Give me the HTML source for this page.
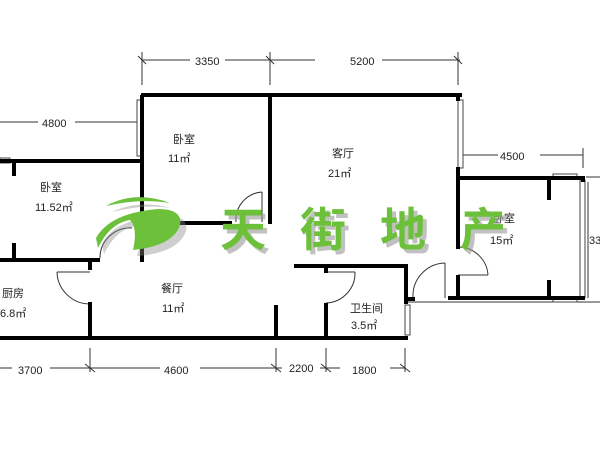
<!DOCTYPE html>
<html><head><meta charset="utf-8"><style>
body{margin:0;background:#fff;}
svg{display:block;}
text{font-family:"Liberation Sans","Noto Sans CJK SC",sans-serif;fill:#222;}
.d{font-size:11px;fill:#333;}
.l{font-size:11px;}
.g{font-family:"Noto Sans CJK SC","WenQuanYi Zen Hei",sans-serif;font-size:46px;font-weight:bold;fill:#6cc03a;}
.gs{font-family:"Noto Sans CJK SC","WenQuanYi Zen Hei",sans-serif;font-size:46px;font-weight:bold;fill:#999;opacity:.6;}
</style></head><body>
<svg width="600" height="450" viewBox="0 0 600 450">
<g stroke="#333" stroke-width="1" fill="none">
<!-- top dims -->
<line x1="142" y1="60" x2="190" y2="60"/><line x1="225" y1="60" x2="315" y2="60"/><line x1="382" y1="60" x2="460" y2="60"/>
<line x1="142" y1="52" x2="142" y2="85"/><line x1="270" y1="52" x2="270" y2="85"/><line x1="458" y1="52" x2="458" y2="85"/>
<line x1="138" y1="56" x2="146" y2="64"/><line x1="266" y1="56" x2="274" y2="64"/><line x1="454" y1="56" x2="462" y2="64"/>
<line x1="0" y1="122" x2="38" y2="122"/><line x1="75" y1="122" x2="140" y2="122"/>
<line x1="462" y1="155" x2="498" y2="155"/><line x1="540" y1="155" x2="583" y2="155"/>
<line x1="583" y1="148" x2="583" y2="168"/><line x1="586" y1="177" x2="600" y2="177"/><line x1="586" y1="302" x2="600" y2="302"/>
<line x1="588" y1="182" x2="588" y2="298"/>
<!-- bottom dims -->
<line x1="0" y1="368" x2="12" y2="368"/><line x1="50" y1="368" x2="160" y2="368"/><line x1="200" y1="368" x2="282" y2="368"/>
<line x1="320" y1="368" x2="340" y2="368"/><line x1="390" y1="368" x2="405" y2="368"/>
<line x1="90" y1="348" x2="90" y2="372"/><line x1="276" y1="348" x2="276" y2="372"/><line x1="326" y1="348" x2="326" y2="372"/><line x1="405" y1="348" x2="405" y2="372"/>
<line x1="85" y1="364" x2="95" y2="372"/><line x1="271" y1="364" x2="281" y2="372"/><line x1="321" y1="364" x2="331" y2="372"/><line x1="400" y1="364" x2="410" y2="372"/>
<!-- door arcs -->
<path d="M57 272 A33 33 0 0 0 90 304"/><line x1="57" y1="272" x2="90" y2="272"/>
<path d="M355 272 A30 30 0 0 1 326 303"/><line x1="326" y1="272" x2="355" y2="272"/>
<path d="M236 222 A28 28 0 0 1 262 192"/><line x1="262" y1="192" x2="262" y2="222"/>
<path d="M458 247 A30 30 0 0 1 488 275"/><line x1="458" y1="275" x2="488" y2="275"/>
<path d="M413 298 A33 33 0 0 1 445 263"/><line x1="445" y1="263" x2="445" y2="298"/>
<path d="M100 258 A30 30 0 0 1 132 228"/>
<line x1="405" y1="302" x2="600" y2="302"/>
</g>
<!-- windows -->
<g fill="#fff" stroke="#444" stroke-width="1">
<rect x="137" y="100" width="5" height="56"/><rect x="458" y="100" width="5" height="68"/>
<rect x="580" y="180" width="5" height="118"/><rect x="405" y="305" width="5" height="30"/>
<rect x="0" y="158" width="10" height="5"/><rect x="553" y="174" width="24" height="5"/><rect x="553" y="297" width="24" height="5"/>
</g>
<g fill="#000">
<rect x="141" y="93" width="321" height="4"/>
<rect x="140" y="95" width="4" height="167"/>
<rect x="268" y="95" width="4" height="129"/>
<rect x="180" y="221" width="52" height="4"/>
<rect x="0" y="159" width="142" height="4"/>
<rect x="12" y="159" width="4" height="17"/><rect x="12" y="243" width="4" height="18"/>
<rect x="0" y="258" width="100" height="4"/>
<rect x="88" y="258" width="4" height="12"/>
<rect x="88" y="302" width="4" height="38"/>
<rect x="0" y="336" width="408" height="4"/>
<rect x="274" y="305" width="4" height="33"/>
<rect x="324" y="303" width="4" height="35"/><rect x="324" y="265" width="4" height="8"/>
<rect x="294" y="264" width="114" height="4"/>
<rect x="404" y="264" width="4" height="40"/>
<rect x="456" y="95" width="4" height="6"/><rect x="456" y="167" width="4" height="82"/>
<rect x="458" y="176" width="127" height="4"/>
<rect x="456" y="275" width="4" height="25"/>
<rect x="448" y="296" width="137" height="4"/>
<rect x="547" y="178" width="4" height="22"/><rect x="547" y="280" width="4" height="18"/>
<rect x="581" y="176" width="4" height="6"/>
<rect x="405" y="297" width="10" height="4"/>
</g>
<g class="d">
<text x="195" y="65">3350</text><text x="350" y="65">5200</text><text x="42" y="127">4800</text>
<text x="500" y="160">4500</text><text x="589" y="244">33</text>
<text x="18" y="374">3700</text><text x="164" y="374">4600</text><text x="289" y="372">2200</text><text x="352" y="374">1800</text>
</g>
<g class="l">
<text x="173" y="143">卧室</text><text x="168" y="162">11㎡</text>
<text x="332" y="157">客厅</text><text x="328" y="177">21㎡</text>
<text x="40" y="191">卧室</text><text x="35" y="211">11.52㎡</text>
<text x="493" y="222">卧室</text><text x="490" y="244">15㎡</text>
<text x="2" y="297">厨房</text><text x="0" y="317">6.8㎡</text>
<text x="161" y="292">餐厅</text><text x="162" y="312">11㎡</text>
<text x="350" y="312">卫生间</text><text x="351" y="329">3.5㎡</text>
</g>
<!-- logo -->
<path d="M108 208 Q135 195 167 204 Q140 200 108 208Z" fill="#888" opacity=".4" transform="translate(4,4)"/>
<path d="M106 206 Q135 190 170 203 Q140 198 106 206Z" fill="#6cc03a"/>
<path d="M98 240 Q110 215 160 211 Q185 211 182 227 Q175 248 135 252 L133 252 Q140 230 132 222 Q112 225 100 250Z" fill="#888" opacity=".4" transform="translate(4,4)"/>
<path d="M96 238 Q110 213 158 209 Q183 209 180 225 Q173 246 133 250 Q138 228 130 220 Q110 223 98 248Z" fill="#6cc03a"/>
<g>
<text class="gs" x="224" y="250">天</text><text class="gs" x="304" y="250">街</text><text class="gs" x="384" y="250">地</text><text class="gs" x="464" y="250">产</text>
<text class="g" x="220" y="246">天</text><text class="g" x="300" y="246">街</text><text class="g" x="380" y="246">地</text><text class="g" x="460" y="246">产</text>
</g>
</svg>
</body></html>
